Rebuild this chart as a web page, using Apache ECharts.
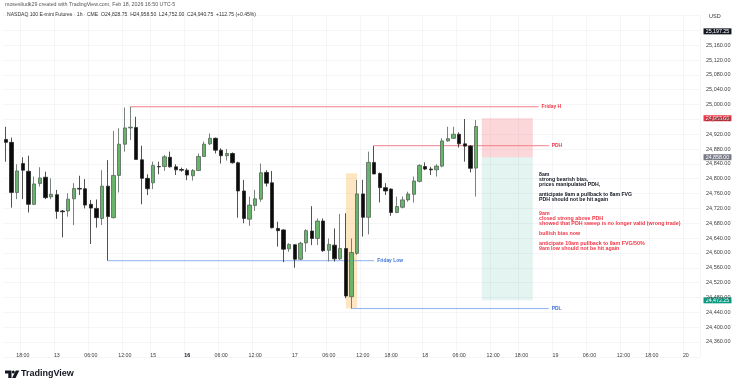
<!DOCTYPE html>
<html><head><meta charset="utf-8">
<script src="https://cdn.jsdelivr.net/npm/echarts@6/dist/echarts.min.js"></script>
<style>html,body{margin:0;padding:0;background:#fff;}#c{width:740px;height:386px;}</style>
</head><body><div id="c"></div>
<script>
// hourly sessions shown on the time axis (day, [fromHour,toHour] ranges)
const sessions = [
  ['12', [14,16], [18,23]],
  ['13', [0,16]],
  ['15', [18,23]],
  ['16', [0,12], [18,23]],
  ['17', [0,16], [18,23]],
  ['18', [0,16], [18,23]],
  ['19', [0,16], [18,23]],
  ['20', [0,2]]
];
// x tick labels: [category, text, bold]
const tickLabels = [
  ['12 18:00','18:00'],['13 00:00','13'],['13 06:00','06:00'],['13 12:00','12:00'],
  ['15 18:00','15'],['16 00:00','16',true],['16 06:00','06:00'],['16 12:00','12:00'],
  ['17 00:00','17'],['17 06:00','06:00'],['17 12:00','12:00'],['17 18:00','18:00'],
  ['18 00:00','18'],['18 06:00','06:00'],['18 12:00','12:00'],['18 18:00','18:00'],
  ['19 00:00','19'],['19 06:00','06:00'],['19 12:00','12:00'],['19 18:00','18:00'],
  ['20 00:00','20']
];
// OHLC (1h bars, first bar Feb 12 14:00)
const opens = [24906,24898,24763,24841,24820,24731,24787,24804,24751,24757,24713,24713,24746,24774,24773,24731,24720,24693,24780,24695,24809,24893,24937,24938,24851,24801,
  24789,24833,24833,24858,24832,24825,24823,24808,24822,24860,24894,24909,24877,24862,24868,24843,24767,24691,24728,
  24745,24817,24789,24666,24662,24611,24622,24583,24627,24659,24639,24686,24607,24621,24584,24612,24482,24599,24759,24696,24844,24814,24776,
  24772,24709,24723,24743,24758,24793,24833,24826,24824,24834,24902,24909,24920,24894,24888,24828.75];
const highs = [24940,24911,24839,24858,24862,24806,24831,24819,24801,24770,24716,24761,24788,24808,24799,24743,24744,24823,24850,24929,24936,24992,24994,24967,24889,24812,
  24846,24846,24864,24873,24839,24830,24828,24826,24868,24900,24922,24911,24882,24880,24871,24846,24797,24752,24770,
  24841,24823,24821,24684,24664,24626,24624,24630,24664,24726,24693,24693,24639,24666,24705,24707,24639,24797,24797,24873,24889,24817,24788,
  24774,24752,24752,24765,24806,24839,24844,24832,24839,24909,24940,24940,24925,24961,24891,24958.5];
const lows = [24846,24722,24745,24745,24709,24729,24779,24745,24745,24692,24642,24698,24675,24756,24720,24624,24668,24675,24579,24693,24763,24873,24904,24852,24731,24756,
  24772,24812,24821,24830,24810,24819,24796,24795,24821,24859,24891,24868,24841,24849,24841,24695,24680,24673,24713,
  24738,24779,24666,24617,24575,24603,24560,24581,24603,24621,24621,24603,24577,24577,24581,24478,24450,24595,24644,24650,24812,24736,24756,
  24700,24707,24720,24738,24736,24790,24823,24810,24806,24831,24900,24907,24884,24846,24817,24752];
const closes = [24898,24763,24821,24823,24731,24786,24802,24749,24758,24712,24711,24745,24774,24772,24729,24721,24695,24780,24698,24809,24893,24937,24939,24852,24801,24773,
  24836,24832,24859,24832,24824,24823,24810,24822,24860,24893,24909,24877,24862,24868,24843,24767,24693,24729,24746,
  24816,24788,24668,24660,24610,24623,24583,24626,24660,24639,24686,24606,24623,24584,24612,24484,24601,24759,24696,24844,24813,24776,24767,
  24709,24725,24743,24759,24794,24836,24826,24824,24834,24902,24908,24920,24894,24888,24828,24940.75];
// levels: [name, fromBar, toBar, price, lineColor, textColor]
const levels = [
  ['Friday H', 22, 94, 24994, '#f27e89', '#f23645'],
  ['PDH', 65, 95.8, 24889, '#f27e89', '#f23645'],
  ['Friday Low', 18, 65, 24579, '#8fb0ee', '#3f72d9'],
  ['PDL', 61, 95.8, 24450, '#8fb0ee', '#3f72d9']
];
// position tool + highlight zones: [fromBar, toBar, top, bottom, color]
const zones = [
  [84, 93, 24963, 24858, 'rgba(242,54,69,0.2)'],
  [84, 93, 24858, 24472.25, 'rgba(8,153,129,0.11)'],
  [60, 62, 24815, 24450, 'rgba(255,152,0,0.24)']
];
// price scale badges
const badges = [
  [25197.25, '#131722'],
  [24963.00, '#f23645'],
  [24858.00, '#787b86'],
  [24472.25, '#089981']
];
const noteBlack = ['8am','strong bearish bias,','prices manipulated PDH,','','anticipate 9am a pullback to 8am FVG','PDH should not be hit again'];
const noteRed = ['9am','closed strong above PDH','showed that PDH sweep is no longer valid (wrong trade)','','bullish bias now','','anticipate 10am pullback to 9am FVG/50%','9am low should not be hit again'];

const categories = [];
sessions.forEach(s => {
  for (let r = 1; r < s.length; r++) {
    for (let h = s[r][0]; h <= s[r][1]; h++) categories.push(s[0] + ' ' + String(h).padStart(2,'0') + ':00');
  }
});
const labelMap = new Map(tickLabels.map(t => [t[0], t[2] ? '{b|' + t[1] + '}' : t[1]]));
const candles = opens.map((o, i) => [o, closes[i], lows[i], highs[i]]);
const FONT = 'Liberation Sans, Arial, sans-serif';
const fmt = v => v.toLocaleString('en-US', {minimumFractionDigits: 2, maximumFractionDigits: 2});

const levelSeries = levels.map(l => ({
  type: 'line', xAxisIndex: 1, yAxisIndex: 0, silent: true, symbol: 'none', showSymbol: false,
  data: [[l[1], l[3]], [l[2], l[3]]],
  lineStyle: {color: l[4], width: 1, type: 'solid'},
  itemStyle: {color: l[4]},
  endLabel: {show: true, formatter: l[0], distance: 3, color: l[5], fontSize: 4.9, fontWeight: 'bold', fontFamily: FONT},
  z: 3
}));

const chart = echarts.init(document.getElementById('c'), null, {renderer: 'canvas'});
chart.setOption({
  animation: false,
  backgroundColor: '#ffffff',
  textStyle: {fontFamily: FONT},
  grid: {left: 3, right: 40, top: 15.5, bottom: 29.2},
  xAxis: [{
    type: 'category', data: categories, boundaryGap: true,
    axisLine: {show: false}, axisTick: {show: false},
    splitLine: {show: true, interval: (i, v) => labelMap.has(v), lineStyle: {color: '#f5f5f7', width: 1}},
    axisLabel: {
      interval: (i, v) => labelMap.has(v), formatter: v => labelMap.get(v) || '',
      margin: -4, fontSize: 5.3, color: '#3d3d3d', fontFamily: FONT,
      rich: {b: {fontWeight: 'bold', fontSize: 5.3, color: '#131722'}}
    }
  }, {
    type: 'value', min: -0.5, max: 122.5, show: false
  }],
  yAxis: [{
    type: 'value', position: 'right', min: 24320, max: 25240, interval: 40, scale: true,
    axisLine: {show: false}, axisTick: {show: false},
    splitLine: {lineStyle: {color: '#f5f5f7', width: 1}},
    axisLabel: {
      margin: 6, fontSize: 5.5, color: '#3d3d3d', fontFamily: FONT,
      formatter: v => (v >= 24360 && v <= 25160) ? fmt(v) : ''
    }
  }],
  series: [{
    type: 'candlestick', xAxisIndex: 0, yAxisIndex: 0, data: candles, barWidth: 4, z: 4,
    itemStyle: {color: '#68b46a', color0: '#0c0c0c', borderColor: '#56655a', borderColor0: '#262626', borderWidth: 0.8}
  }, {
    type: 'line', xAxisIndex: 1, yAxisIndex: 0, data: [], symbol: 'none', silent: true,
    markArea: {
      silent: true,
      data: zones.map(z => [{coord: [z[0], z[2]], itemStyle: {color: z[4]}}, {coord: [z[1], z[3]]}])
    }
  }].concat(levelSeries)
});

const yPix = v => chart.convertToPixel({yAxisIndex: 0}, v);
const graphics = [
  {type: 'text', left: 5, top: 2.5, style: {text: 'mosesliudk29 created with TradingView.com, Feb 18, 2026 16:50 UTC-5', fontSize: 5.3, fontFamily: FONT, fill: '#555'}},
  {type: 'text', left: 7, top: 12.5, style: {text: 'NASDAQ 100 E-mini Futures · 1h · CME  O24,828.75  H24,958.50  L24,752.00  C24,940.75  +112.75 (+0.45%)', fontSize: 5.05, fontFamily: FONT, fill: '#333'}},
  {type: 'text', left: 709, top: 13, style: {text: 'USD', fontSize: 5.5, fontFamily: FONT, fill: '#333'}},
  {type: 'text', x: 539, y: 172.5, style: {text: noteBlack.join('\n'), fontSize: 5.2, fontWeight: 'bold', lineHeight: 5, fontFamily: FONT, fill: '#131722', verticalAlign: 'top'}},
  {type: 'text', x: 539, y: 211.5, style: {text: noteRed.join('\n'), fontSize: 5.3, fontWeight: 'bold', lineHeight: 5, fontFamily: FONT, fill: '#f23645', verticalAlign: 'top'}},
  // TradingView logo
  {type: 'polygon', shape: {points: [[5,370.5],[11.5,370.5],[11.5,378],[8.3,378],[8.3,373.4],[5,373.4]]}, style: {fill: '#131722'}},
  {type: 'circle', shape: {cx: 13.3, cy: 372, r: 1.5}, style: {fill: '#131722'}},
  {type: 'polygon', shape: {points: [[15.8,370.5],[19.3,370.5],[15.6,378],[12.1,378]]}, style: {fill: '#131722'}},
  {type: 'text', left: 21, top: 369.5, style: {text: 'TradingView', fontSize: 9, fontWeight: 'bold', fontFamily: FONT, fill: '#131722'}}
];
badges.forEach(b => {
  graphics.push({type: 'text', x: 703.5, y: yPix(b[0]), style: {
    text: fmt(b[0]), fontSize: 5.3, fontFamily: FONT, fill: '#ffffff', verticalAlign: 'middle',
    backgroundColor: b[1], padding: [0.6, 2.2, 0.4, 2.2]
  }});
});
chart.setOption({graphic: graphics});
</script></body></html>
